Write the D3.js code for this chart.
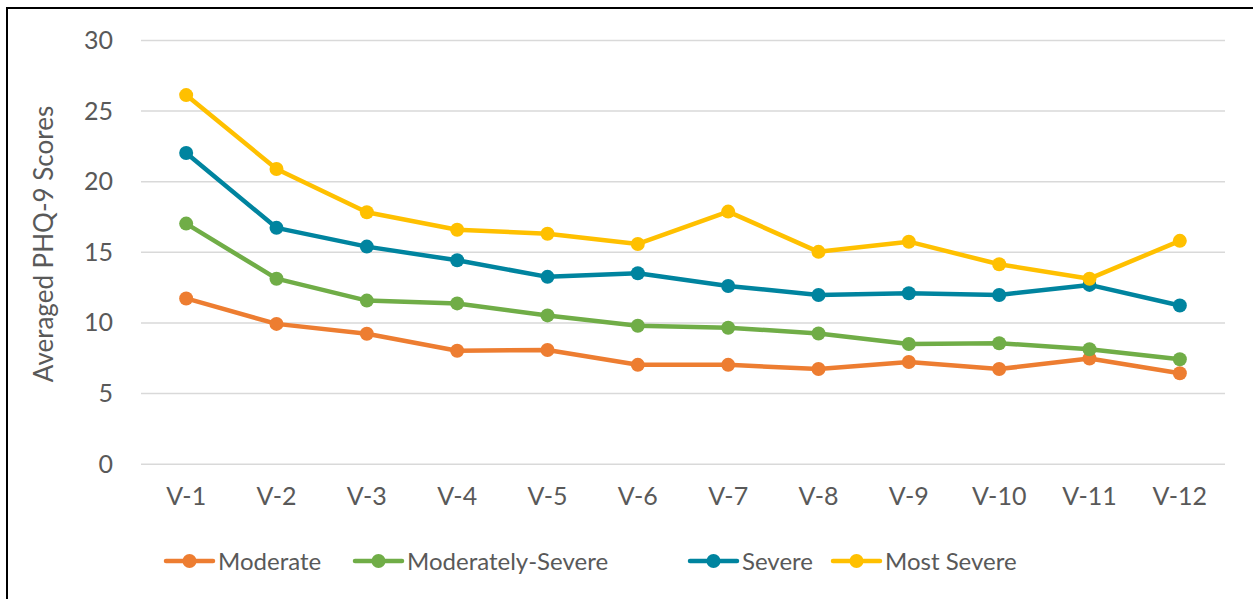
<!DOCTYPE html>
<html>
<head>
<meta charset="utf-8">
<script src="https://cdn.jsdelivr.net/npm/d3@7"></script>
<style>
  body { margin: 0; background: #fff; }
  text { font-family: Lato, "Open Sans", sans-serif; fill: #595959; }
</style>
</head>
<body>
<svg width="1253" height="599"></svg>
<script>
// data
var visits = ["V-1", "V-2", "V-3", "V-4", "V-5", "V-6", "V-7", "V-8", "V-9", "V-10", "V-11", "V-12"];
var moderate = [11.7, 9.9, 9.2, 8.0, 8.05, 7.0, 7.0, 6.7, 7.2, 6.7, 7.45, 6.4];
var modSevere = [17.0, 13.1, 11.55, 11.35, 10.5, 9.77, 9.63, 9.22, 8.48, 8.53, 8.1, 7.4];
var severe = [22.0, 16.7, 15.37, 14.4, 13.23, 13.48, 12.58, 11.95, 12.07, 11.95, 12.66, 11.2];
var mostSevere = [26.1, 20.87, 17.8, 16.57, 16.28, 15.56, 17.85, 15.0, 15.72, 14.12, 13.1, 15.78];
var yTicks = [0, 5, 10, 15, 20, 25, 30];

var series = [
    { name: "Moderate", values: moderate, color: "#ED7D31" },
    { name: "Moderately-Severe", values: modSevere, color: "#70AD47" },
    { name: "Severe", values: severe, color: "#00849F" },
    { name: "Most Severe", values: mostSevere, color: "#FFC000" }
];

var svg = d3.select("svg");

// outer frame (only left and top edges are visible)
svg.append("rect")
    .attr("x", 7).attr("y", 8)
    .attr("width", 1300).attr("height", 700)
    .attr("fill", "none")
    .attr("stroke", "#000")
    .attr("stroke-width", 2);

var x = d3.scaleBand()
    .domain(visits)
    .range([141, 1225]);

var y = d3.scaleLinear()
    .domain([0, 30])
    .range([463.7, 40]);

// gridlines
var grid = svg.append("g")
    .attr("transform", "translate(141,0)")
    .call(d3.axisRight(y).tickValues(yTicks).tickSize(1084).tickFormat(""));
grid.select(".domain").remove();
grid.selectAll(".tick line").attr("stroke", "#d9d9d9").attr("stroke-width", 1.5);

// y labels
svg.append("g").selectAll("text")
    .data(yTicks)
    .join("text")
    .attr("x", 113)
    .attr("y", d => y(d))
    .attr("dy", "0.36em")
    .attr("text-anchor", "end")
    .style("font-size", "25px")
    .text(d => d);

// x labels
var xAxis = svg.append("g")
    .attr("transform", "translate(0,463.7)")
    .call(d3.axisBottom(x).tickSize(0).tickPadding(24));
xAxis.select(".domain").remove();
xAxis.selectAll("text")
    .style("font-size", "25px")
    .style("font-family", "Lato, 'Open Sans', sans-serif")
    .attr("fill", "#595959");

// y title
svg.append("text")
    .attr("transform", "translate(44,244) rotate(-90)")
    .attr("dy", "0.35em")
    .attr("text-anchor", "middle")
    .style("font-size", "26px")
    .text("Averaged PHQ-9 Scores");

var line = d3.line()
    .x((d, i) => x(visits[i]) + x.bandwidth() / 2)
    .y(d => y(d));

var g = svg.append("g");
series.forEach(function (s) {
    g.append("path")
        .attr("d", line(s.values))
        .attr("fill", "none")
        .attr("stroke", s.color)
        .attr("stroke-width", 4.5)
        .attr("stroke-linejoin", "round");
    g.selectAll(null)
        .data(s.values)
        .join("circle")
        .attr("cx", (d, i) => x(visits[i]) + x.bandwidth() / 2)
        .attr("cy", d => y(d))
        .attr("r", 7)
        .attr("fill", s.color);
});

// legend
var legendX = [166, 355, 690, 833];
var legend = svg.append("g").selectAll("g")
    .data(series)
    .join("g")
    .attr("transform", (d, i) => "translate(" + legendX[i] + ",561)");

legend.append("line")
    .attr("x1", 0).attr("x2", 47)
    .attr("stroke", d => d.color)
    .attr("stroke-width", 4.5)
    .attr("stroke-linecap", "round");
legend.append("circle")
    .attr("cx", 23.5).attr("r", 7)
    .attr("fill", d => d.color);
legend.append("text")
    .attr("x", 52)
    .attr("dy", "0.36em")
    .style("font-size", "24px")
    .text(d => d.name);
</script>
</body>
</html>
